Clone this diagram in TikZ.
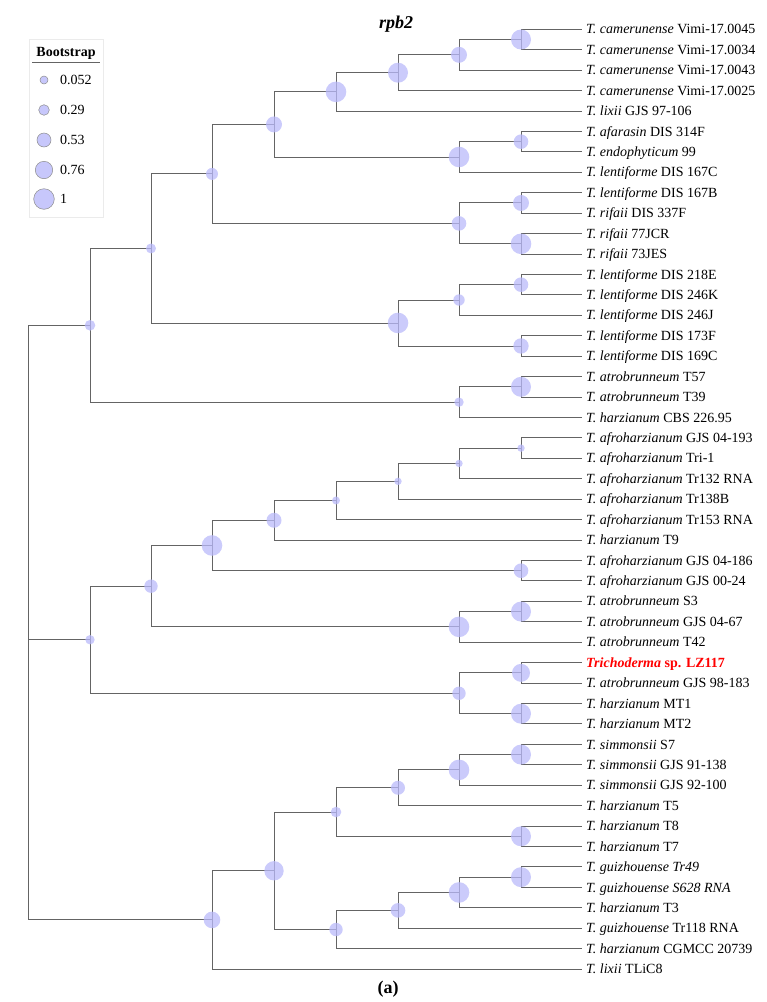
\documentclass[tikz,border=0pt]{standalone}
\usepackage{fontspec}
\setmainfont{Liberation Serif}
\usetikzlibrary{positioning}
\definecolor{bsfill}{RGB}{185,185,250}
\definecolor{branchgray}{RGB}{100,100,100}
\tikzset{
  branch/.style={draw=branchgray, line width=0.95pt},
  bsdot/.style={circle, fill=bsfill, fill opacity=0.75, inner sep=0pt},
  leaf/.style={anchor=west, inner xsep=4pt, inner ysep=0pt, text height=9.3pt, text depth=0pt,
    font=\fontsize{14}{16}\selectfont}
}
\begin{document}
\begin{tikzpicture}[x=1pt, y=-1pt]
  \useasboundingbox (0,0) rectangle (767,1002);

  % Title and panel letter
  \node[font=\bfseries\itshape\fontsize{18}{20}\selectfont] (title) at (396,24) {rpb2};
  \node[font=\bfseries\fontsize{18}{20}\selectfont] (panel) at (388,989) {(a)};

  % Leaves
  \foreach \i/\txt in {
    1/{\textit{T. camerunense} Vimi-17.0045},
    2/{\textit{T. camerunense} Vimi-17.0034},
    3/{\textit{T. camerunense} Vimi-17.0043},
    4/{\textit{T. camerunense} Vimi-17.0025},
    5/{\textit{T. lixii} GJS 97-106},
    6/{\textit{T. afarasin} DIS 314F},
    7/{\textit{T. endophyticum} 99},
    8/{\textit{T. lentiforme} DIS 167C},
    9/{\textit{T. lentiforme} DIS 167B},
    10/{\textit{T. rifaii} DIS 337F},
    11/{\textit{T. rifaii} 77JCR},
    12/{\textit{T. rifaii} 73JES},
    13/{\textit{T. lentiforme} DIS 218E},
    14/{\textit{T. lentiforme} DIS 246K},
    15/{\textit{T. lentiforme} DIS 246J},
    16/{\textit{T. lentiforme} DIS 173F},
    17/{\textit{T. lentiforme} DIS 169C},
    18/{\textit{T. atrobrunneum} T57},
    19/{\textit{T. atrobrunneum} T39},
    20/{\textit{T. harzianum} CBS 226.95},
    21/{\textit{T. afroharzianum} GJS 04-193},
    22/{\textit{T. afroharzianum} Tri-1},
    23/{\textit{T. afroharzianum} Tr132 RNA},
    24/{\textit{T. afroharzianum} Tr138B},
    25/{\textit{T. afroharzianum} Tr153 RNA},
    26/{\textit{T. harzianum} T9},
    27/{\textit{T. afroharzianum} GJS 04-186},
    28/{\textit{T. afroharzianum} GJS 00-24},
    29/{\textit{T. atrobrunneum} S3},
    30/{\textit{T. atrobrunneum} GJS 04-67},
    31/{\textit{T. atrobrunneum} T42},
    32/{\textcolor{red}{\bfseries\textit{Trichoderma} sp. LZ117}},
    33/{\textit{T. atrobrunneum} GJS 98-183},
    34/{\textit{T. harzianum} MT1},
    35/{\textit{T. harzianum} MT2},
    36/{\textit{T. simmonsii} S7},
    37/{\textit{T. simmonsii} GJS 91-138},
    38/{\textit{T. simmonsii} GJS 92-100},
    39/{\textit{T. harzianum} T5},
    40/{\textit{T. harzianum} T8},
    41/{\textit{T. harzianum} T7},
    42/{\textit{T. guizhouense Tr49}},
    43/{\textit{T. guizhouense S628 RNA}},
    44/{\textit{T. harzianum} T3},
    45/{\textit{T. guizhouense} Tr118 RNA},
    46/{\textit{T. harzianum} CGMCC 20739},
    47/{\textit{T. lixii} TLiC8}}
    \node[leaf] (l\i) at (582,{29.3+20.43*(\i-1)}) {\txt};

  % Internal nodes
  \coordinate (root) at (28,622.6);
  % upper clade
  \coordinate (A1) at (521,39.52);
  \coordinate (A2) at (459,54.84);
  \coordinate (A3) at (398,72.72);
  \coordinate (A4) at (336,91.87);
  \coordinate (B1) at (521,141.67);
  \coordinate (B2) at (459,156.99);
  \coordinate (A5) at (274,124.43);
  \coordinate (C1) at (521,202.96);
  \coordinate (C2) at (521,243.82);
  \coordinate (C3) at (459,223.39);
  \coordinate (A6) at (212,173.91);
  \coordinate (D1) at (521,284.68);
  \coordinate (D2) at (459,300.0);
  \coordinate (D3) at (521,345.97);
  \coordinate (D4) at (398,322.98);
  \coordinate (A7) at (151,248.45);
  \coordinate (E1) at (521,386.83);
  \coordinate (E2) at (459,402.15);
  \coordinate (A8) at (90,325.3);
  % middle clade
  \coordinate (F1) at (521,448.12);
  \coordinate (F2) at (459,463.44);
  \coordinate (F3) at (398,481.32);
  \coordinate (F4) at (336,500.47);
  \coordinate (F5) at (274,520.26);
  \coordinate (G1) at (521,570.7);
  \coordinate (F6) at (212,545.48);
  \coordinate (H1) at (521,611.56);
  \coordinate (H2) at (459,626.88);
  \coordinate (F7) at (151,586.18);
  \coordinate (I1) at (521,672.85);
  \coordinate (I2) at (521,713.71);
  \coordinate (I3) at (459,693.28);
  \coordinate (F8) at (90,639.73);
  % lower clade
  \coordinate (J1) at (521,754.57);
  \coordinate (J2) at (459,769.89);
  \coordinate (J3) at (398,787.77);
  \coordinate (K1) at (521,836.29);
  \coordinate (J4) at (336,812.03);
  \coordinate (L1) at (521,877.15);
  \coordinate (L2) at (459,892.47);
  \coordinate (L3) at (398,910.35);
  \coordinate (L4) at (336,929.5);
  \coordinate (J5) at (274,870.77);
  \coordinate (J6) at (212,919.92);

  % Branches
  \foreach \p/\c in {A1/l1.west, A1/l2.west, A2/A1, A2/l3.west, A3/A2, A3/l4.west,
      A4/A3, A4/l5.west, B1/l6.west, B1/l7.west, B2/B1, B2/l8.west, A5/A4, A5/B2,
      C1/l9.west, C1/l10.west, C2/l11.west, C2/l12.west, C3/C1, C3/C2, A6/A5, A6/C3,
      D1/l13.west, D1/l14.west, D2/D1, D2/l15.west, D3/l16.west, D3/l17.west,
      D4/D2, D4/D3, A7/A6, A7/D4, E1/l18.west, E1/l19.west, E2/E1, E2/l20.west,
      A8/A7, A8/E2,
      F1/l21.west, F1/l22.west, F2/F1, F2/l23.west, F3/F2, F3/l24.west, F4/F3, F4/l25.west,
      F5/F4, F5/l26.west, G1/l27.west, G1/l28.west, F6/F5, F6/G1,
      H1/l29.west, H1/l30.west, H2/H1, H2/l31.west, F7/F6, F7/H2,
      I1/l32.west, I1/l33.west, I2/l34.west, I2/l35.west, I3/I1, I3/I2, F8/F7, F8/I3,
      J1/l36.west, J1/l37.west, J2/J1, J2/l38.west, J3/J2, J3/l39.west,
      K1/l40.west, K1/l41.west, J4/J3, J4/K1,
      L1/l42.west, L1/l43.west, L2/L1, L2/l44.west, L3/L2, L3/l45.west, L4/L3, L4/l46.west,
      J5/J4, J5/L4, J6/J5, J6/l47.west,
      root/A8, root/F8, root/J6}
    \draw[branch] (\p) |- (\c);

  % Bootstrap circles
  \foreach \c/\d in {A1/20, A2/16, A3/20, A4/20.6, B1/14.6, B2/20.6, A5/16, C1/16, C2/20.6,
      C3/14.6, A6/12, D1/14.6, D2/11.4, D3/15.4, D4/20.6, A7/10, E1/20, E2/9.4, A8/10.6,
      F1/7.4, F2/7.4, F3/7.4, F4/8, F5/15, G1/14.6, F6/20.6, H1/20, H2/20.6, F7/13.4,
      I1/18, I2/20, I3/13.4, F8/9.4,
      J1/20, J2/20.6, J3/14, K1/20, J4/10.6, L1/20, L2/20.6, L3/14.6, L4/13.4, J5/19.4, J6/16.6}
    \node[bsdot, minimum size=\d pt] (\c-dot) at (\c) {};

  % Legend
  \draw[draw=black!8, line width=0.6pt] (29,39) rectangle (103,217);
  \node[font=\bfseries\fontsize{14}{16}\selectfont] (bstitle) at (66,53) {Bootstrap};
  \draw[branchgray, line width=0.8pt] (32,62) -- (100,62);
  \foreach \v/\yy/\d [count=\k] in {0.052/80/8, 0.29/110/10.6, 0.53/140/14, 0.76/170/17.4, 1/199/20.6} {
    \node[circle, fill=bsfill, fill opacity=0.8, draw=black!45, draw opacity=1, line width=0.5pt,
      inner sep=0pt, minimum size=\d pt] (key\k) at (44,\yy) {};
    \node[anchor=west, inner sep=0pt, font=\fontsize{14}{16}\selectfont] (keylab\k) at (60,\yy) {\v};
  }
\end{tikzpicture}
\end{document}
